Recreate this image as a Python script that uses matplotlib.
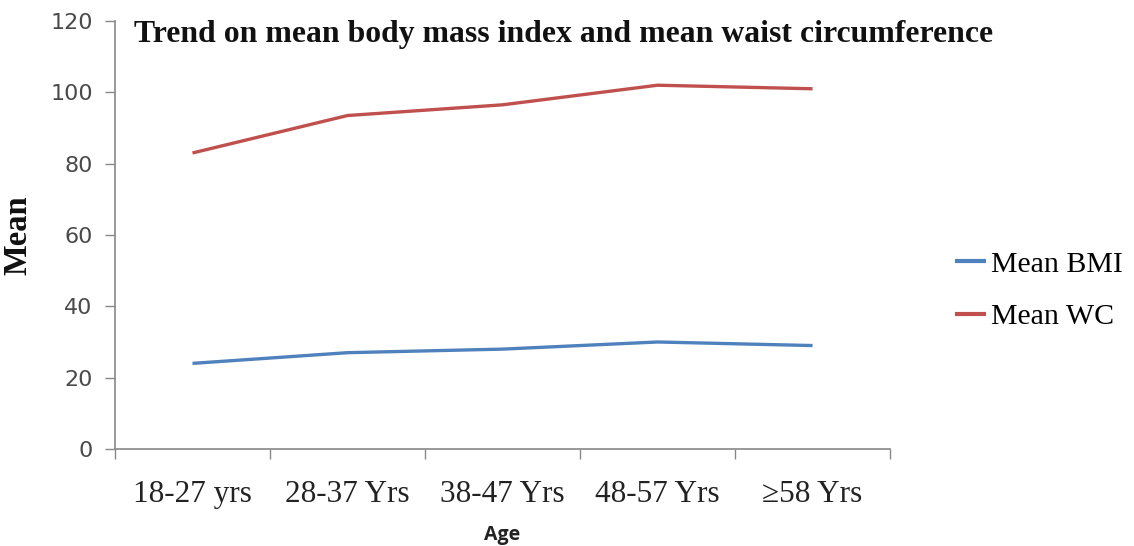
import matplotlib
matplotlib.use("Agg")
import matplotlib.pyplot as plt
import numpy as np

age_groups = ["18-27 yrs", "28-37 Yrs", "38-47 Yrs", "48-57 Yrs", "\u226558 Yrs"]
mean_bmi = [24.0, 27.0, 28.0, 30.0, 29.0]
mean_wc = [83.0, 93.5, 96.5, 102.0, 101.0]
y_ticks = [0, 20, 40, 60, 80, 100, 120]

fig = plt.figure(figsize=(11.34, 5.46), dpi=100)
ax = fig.add_axes([0.1014, 0.1777, 0.6835, 0.7838])

x = np.arange(len(age_groups))
ax.plot(x, mean_bmi, color="#4F81BD", lw=2.4, label="Mean BMI", solid_capstyle="butt")
ax.plot(x, mean_wc, color="#C0504D", lw=2.4, label="Mean WC", solid_capstyle="butt")

ax.set_xlim(-0.5, len(age_groups) - 0.5)
ax.set_ylim(0, 120)
ax.set_yticks(y_ticks)
ax.set_yticklabels([str(v) for v in y_ticks], fontfamily="DejaVu Sans", fontsize=16, color="#4a4a4a")

ax.set_xticks(x)
ax.set_xticklabels(age_groups, fontfamily="Liberation Serif", fontsize=22.5, color="#222222")
ax.set_xticks(np.arange(-0.5, len(age_groups)), minor=True)
ax.tick_params(axis="x", which="major", length=0, pad=22)
ax.tick_params(axis="x", which="minor", length=7, color="#888888", width=1)
ax.tick_params(axis="y", length=7, color="#888888", width=1, pad=9)

for side in ["top", "right"]:
    ax.spines[side].set_visible(False)
for side in ["left", "bottom"]:
    ax.spines[side].set_color("#888888")
    ax.spines[side].set_linewidth(1.2)

ax.set_xlabel("Age", fontfamily="Open Sans", fontsize=14, fontweight="bold", color="#222222", labelpad=12)
ax.set_ylabel("Mean", fontfamily="Liberation Serif", fontsize=23.5, fontweight="bold", color="#111111", labelpad=12)

ax.text(0.025, 0.968, "Trend on mean body mass index and mean waist circumference",
        transform=ax.transAxes, fontfamily="Liberation Serif", fontsize=22.9,
        fontweight="bold", color="#111111", va="center", ha="left")

leg = fig.legend(loc="center left", bbox_to_anchor=(955 / 1134, 0.468), frameon=False,
                 prop={"family": "Liberation Serif", "size": 21.5}, handlelength=1.05,
                 handletextpad=0.15, labelspacing=0.85, borderpad=0, borderaxespad=0)
for line in leg.get_lines():
    line.set_linewidth(3)

fig.savefig("out.png", dpi=100)
